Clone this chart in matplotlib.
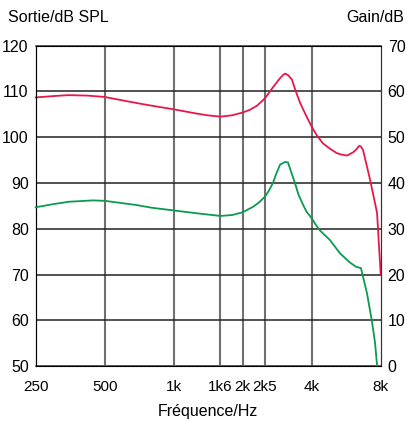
import numpy as np
import matplotlib.pyplot as plt
from matplotlib.ticker import FixedLocator, NullLocator

# frequency points (Hz) and levels
freq_out = [250, 300, 346, 420, 500, 685, 800, 1000, 1250, 1400, 1600, 1800, 2000, 2150,
            2310, 2500, 2700, 2910, 3000, 3060, 3150, 3280, 3400, 3560, 3800, 4000, 4200,
            4470, 4800, 5160, 5400, 5710, 6060, 6250, 6440, 6550, 6700, 6900, 7190, 7710, 8000]
sortie = [108.7, 109.0, 109.2, 109.1, 108.8, 107.5, 106.9, 106.1, 105.2, 104.8, 104.5, 104.8,
          105.4, 106.0, 106.9, 108.5, 110.8, 112.9, 113.6, 113.9, 113.6, 112.6, 110.2, 107.5,
          104.5, 102.3, 100.5, 98.7, 97.5, 96.5, 96.2, 96.0, 96.7, 97.3, 98.1, 98.0, 97.2,
          94.5, 90.7, 83.5, 70.0]

freq_gain = [250, 300, 349, 445, 500, 685, 800, 1000, 1250, 1600, 1800, 2000, 2220, 2350,
             2500, 2600, 2710, 2800, 2910, 3060, 3150, 3250, 3380, 3500, 3670, 3800, 4000,
             4150, 4350, 4810, 5320, 5880, 6240, 6560, 6970, 7330, 7560, 7710]
gain = [34.7, 35.4, 35.9, 36.2, 36.1, 35.2, 34.6, 34.0, 33.4, 32.8, 33.0, 33.6, 34.8, 35.7,
        37.0, 38.3, 40.0, 42.0, 44.0, 44.6, 44.5, 42.5, 40.0, 37.5, 35.2, 33.7, 32.3,
        31.0, 29.6, 27.5, 24.6, 22.6, 21.7, 21.4, 15.9, 9.7, 5.0, 0.2]

xticks = [250, 500, 1000, 1600, 2000, 2500, 4000, 8000]
xlabels = ['250', '500', '1k', '1k6', '2k', '2k5', '4k', '8k']
left_ticks = [50, 60, 70, 80, 90, 100, 110, 120]
right_ticks = [0, 10, 20, 30, 40, 50, 60, 70]

plt.rcParams['font.family'] = ['Liberation Sans', 'DejaVu Sans']

fig = plt.figure(figsize=(4.07, 4.21), dpi=100)
ax = fig.add_axes([0.0877, 0.1306, 0.8477, 0.7608])
ax.set_xscale('log')
ax.set_xlim(250, 8000)
ax.set_ylim(50, 120)

ax.xaxis.set_major_locator(FixedLocator(xticks))
ax.xaxis.set_minor_locator(NullLocator())
ax.set_xticklabels(xlabels, fontsize=11)
ax.set_yticks(left_ticks)
ax.set_yticklabels([str(v) for v in left_ticks], fontsize=11.5)
ax.tick_params(axis='x', length=0, pad=10)
ax.tick_params(axis='y', length=0, pad=5)

for f in xticks[1:-1]:
    ax.axvline(f, color='#707070', lw=1.5, zorder=1)
for v in left_ticks[1:-1]:
    ax.axhline(v, color='#222222', lw=1.1, zorder=1)

for s in ['top', 'bottom']:
    ax.spines[s].set_color('#555555')
    ax.spines[s].set_linestyle((0, (1, 0.6)))
    ax.spines[s].set_linewidth(1.2)
ax.spines['left'].set_color('#333333')
ax.spines['right'].set_color('#333333')

ax.plot(freq_out, sortie, color='#e8174a', lw=1.3, zorder=3, clip_on=False)

ax2 = ax.twinx()
ax2.set_ylim(0, 70)
ax2.set_yticks(right_ticks)
ax2.set_yticklabels([str(v) for v in right_ticks], fontsize=11.5)
ax2.tick_params(length=0, pad=5)
ax2.spines['right'].set_color('#333333')
ax2.plot(freq_gain, gain, color='#0a9a50', lw=1.3, zorder=3, clip_on=False)

fig.text(0.02, 0.958, 'Sortie/dB SPL', fontsize=11.5, ha='left', va='center')
fig.text(0.993, 0.958, 'Gain/dB', fontsize=11.5, ha='right', va='center')
ax.set_xlabel('Fréquence/Hz', fontsize=11.5, labelpad=7)

fig.savefig('out.png', dpi=100)
